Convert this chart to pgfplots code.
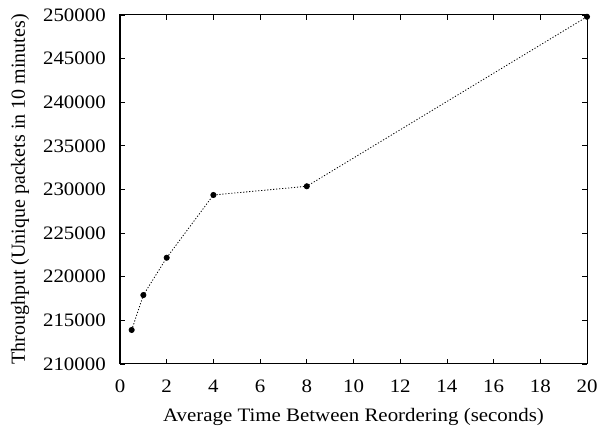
\documentclass[border=0pt]{standalone}
\usepackage{fontspec}
\setmainfont[FakeStretch=1.1]{Liberation Serif}
\newfontfamily\plainserif{Liberation Serif}
\usepackage{pgfplots}
\pgfplotsset{compat=1.18}
\begin{document}
\begin{tikzpicture}[x=1pt,y=1pt]
\begin{axis}[
  scale only axis,
  anchor=south west, at={(0,0)},
  width=467pt, height=349pt,
  xmin=0, xmax=20, ymin=210000, ymax=250000,
  xtick={0,2,...,20},
  ytick={210000,215000,...,250000},
  tick align=inside,
  major tick length=5pt,
  minor tick num=0,
  /pgf/number format/assume math mode=true,
  scaled y ticks=false,
  yticklabel style={/pgf/number format/fixed,/pgf/number format/1000 sep={},
     anchor=east, inner sep=0pt, xshift=-14pt, font=\fontsize{19}{22}\selectfont},
  xticklabel style={anchor=north, inner sep=0pt, yshift=-16pt, font=\fontsize{19}{22}\selectfont},
  xlabel={Average Time Between Reordering (seconds)},
  ylabel={Throughput (Unique packets in 10 minutes)},
  xlabel style={at={(axis description cs:0.5,0)}, anchor=base, inner sep=0pt, yshift=-58pt,
     font=\fontsize{19}{22}\selectfont},
  ylabel style={at={(axis description cs:-0.214,0.5)}, anchor=center, inner sep=0pt,
     rotate=0, font=\plainserif\fontsize{20}{23}\selectfont},
  axis line style={line width=1pt},
  every tick/.style={line width=0.8pt,black},
]
\addplot[black, line width=0.8pt, dash pattern=on 1.2pt off 1.8pt, mark=*, mark size=2.6pt, mark options={solid}]
coordinates {
(0.5,213900) (1,217900) (2,222180) (4,229370) (8,230370) (20,249800)
};
\end{axis}
\pgfresetboundingbox
\path[use as bounding box] (-120pt,-63pt) rectangle (484pt,364pt);
\end{tikzpicture}
\end{document}
